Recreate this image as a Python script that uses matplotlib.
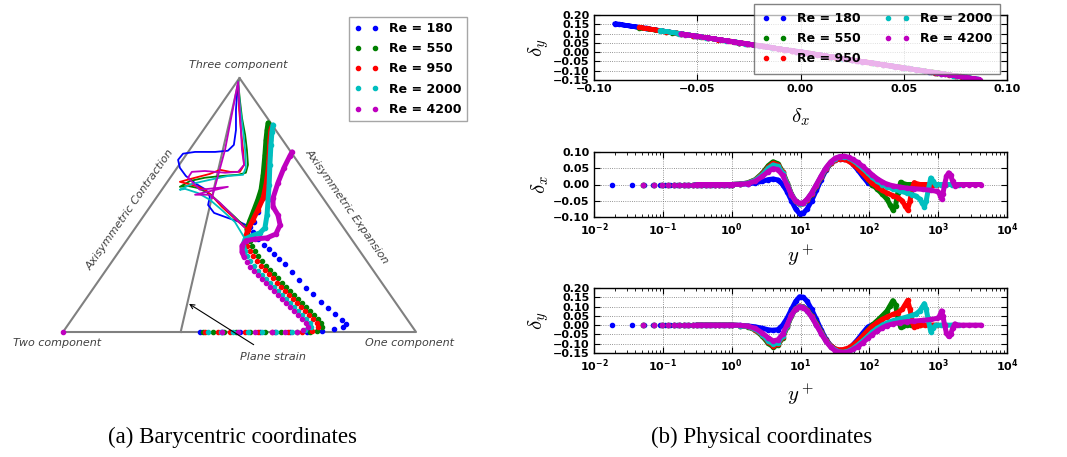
import numpy as np
import matplotlib
matplotlib.use('Agg')
import matplotlib.pyplot as plt

plt.rcParams['font.family'] = ['DejaVu Sans']
plt.rcParams['font.weight'] = 'bold'
plt.rcParams['mathtext.fontset'] = 'dejavusans'

labels = ['Re = 180', 'Re = 550', 'Re = 950', 'Re = 2000', 'Re = 4200']
colors = ['b', 'g', 'r', 'c', 'm']

# ---------------- physical coordinates: y+ grids ----------------
yp_wall_180 = [0.018, 0.036, 0.054, 0.072, 0.09, 0.108, 0.126, 0.144, 0.162, 0.18, 0.2, 0.22,
               0.24, 0.27, 0.3, 0.33, 0.37, 0.41, 0.46, 0.52, 0.58, 0.65, 0.73, 0.82, 0.92]
yp_wall = [0.052, 0.074, 0.096, 0.12, 0.145, 0.17, 0.2, 0.235, 0.27, 0.31, 0.36, 0.42, 0.49,
           0.57, 0.66, 0.77, 0.9]
yp_core = [1.0, 1.3, 1.7, 2.2, 2.8, 3.4, 4.0, 4.7, 5.5, 6.4, 7.4, 8.5, 9.7, 11, 12.5, 14.5,
           17, 20, 23.5, 27.5, 32, 37, 43, 50, 58, 68, 80, 95]

yp_180 = yp_wall_180 + yp_core + [110, 130, 155, 180]
yp_550 = yp_wall + yp_core + [110, 130, 155, 180, 200, 220, 240, 260, 285, 310, 350, 400, 470, 550]
yp_950 = yp_wall + yp_core + [110, 130, 155, 180, 220, 260, 300, 330, 360, 390, 420, 450, 490,
                              550, 650, 750, 850, 950]
yp_2000 = yp_wall + yp_core + [110, 130, 155, 180, 220, 280, 350, 420, 480, 540, 590, 630, 670,
                               720, 780, 840, 920, 1100, 1300, 1600, 2000]
yp_4200 = yp_wall + yp_core + [110, 130, 155, 180, 220, 280, 350, 450, 600, 800, 950, 1030, 1080,
                               1120, 1170, 1240, 1320, 1420, 1520, 1620, 1750, 1900, 2300, 2800,
                               3400, 4200]

# delta_x
dx_180 = [0.0] * len(yp_wall_180) + [
    0.0, 0.001, 0.002, 0.005, 0.010, 0.015, 0.017, 0.014, 0.000, -0.022, -0.050, -0.075, -0.090,
    -0.088, -0.075, -0.050, -0.018, 0.015, 0.045, 0.065, 0.076, 0.080, 0.080, 0.075, 0.062, 0.045,
    0.025, 0.006] + [0.0, -0.002, 0.0, 0.0]
dx_550 = [0.0] * len(yp_wall) + [
    0.0, 0.001, 0.005, 0.015, 0.035, 0.058, 0.070, 0.064, 0.040, 0.005, -0.030, -0.052, -0.060,
    -0.058, -0.048, -0.030, -0.005, 0.022, 0.048, 0.066, 0.077, 0.082, 0.081, 0.076, 0.066, 0.052,
    0.035, 0.016] + [0.0, -0.014, -0.030, -0.045, -0.062, -0.078, -0.065, -0.025, 0.007, 0.003,
                     0.0, 0.0, 0.0, 0.0]
dx_950 = [0.0] * len(yp_wall) + [
    0.0, 0.001, 0.004, 0.014, 0.032, 0.053, 0.065, 0.060, 0.037, 0.003, -0.031, -0.052, -0.060,
    -0.058, -0.047, -0.028, -0.004, 0.023, 0.048, 0.066, 0.075, 0.078, 0.077, 0.072, 0.063, 0.050,
    0.034, 0.017] + [0.004, -0.008, -0.018, -0.026, -0.034, -0.040, -0.050, -0.065, -0.078, -0.050,
                     -0.010, 0.006, 0.002, 0.0, 0.0, 0.0, 0.0, 0.0]
dx_2000 = [0.0] * len(yp_wall) + [
    0.0, 0.001, 0.004, 0.013, 0.030, 0.050, 0.060, 0.056, 0.035, 0.002, -0.031, -0.051, -0.059,
    -0.057, -0.046, -0.027, -0.002, 0.025, 0.050, 0.068, 0.079, 0.085, 0.086, 0.082, 0.074, 0.063,
    0.050, 0.035] + [0.022, 0.010, 0.0, -0.007, -0.014, -0.020, -0.026, -0.031, -0.036, -0.045,
                     -0.058, -0.068, -0.050, -0.015, 0.020, 0.010, 0.0, 0.0, 0.0, 0.0, 0.0]
dx_4200 = [0.0] * len(yp_wall) + [
    0.0, 0.0005, 0.003, 0.010, 0.025, 0.040, 0.049, 0.046, 0.028, -0.002, -0.032, -0.051, -0.058,
    -0.056, -0.045, -0.026, 0.0, 0.027, 0.052, 0.070, 0.081, 0.086, 0.087, 0.084, 0.077, 0.068,
    0.056, 0.042] + [0.030, 0.018, 0.008, 0.001, -0.004, -0.008, -0.011, -0.013, -0.015, -0.018,
                     -0.021, -0.025, -0.035, -0.045, -0.030, 0.0, 0.025, 0.036, 0.028, 0.010,
                     -0.004, 0.0, 0.0, 0.0, 0.0, 0.0]

# delta_y
dy_180 = [0.0] * len(yp_wall_180) + [
    0.0, -0.001, -0.004, -0.009, -0.017, -0.025, -0.028, -0.024, 0.000, 0.038, 0.085, 0.128, 0.153,
    0.150, 0.128, 0.085, 0.031, -0.026, -0.077, -0.110, -0.130, -0.136, -0.136, -0.128, -0.105,
    -0.077, -0.043, -0.010] + [0.002, 0.004, 0.001, 0.0]
dy_550 = [0.0] * len(yp_wall) + [
    0.0, -0.002, -0.009, -0.026, -0.060, -0.098, -0.117, -0.108, -0.068, -0.009, 0.051, 0.088, 0.102,
    0.099, 0.082, 0.051, 0.009, -0.037, -0.082, -0.112, -0.131, -0.139, -0.138, -0.129, -0.112,
    -0.088, -0.060, -0.027] + [0.0, 0.024, 0.051, 0.076, 0.105, 0.132, 0.110, 0.042, -0.012,
                               -0.005, 0.0, 0.0, 0.0, 0.0]
dy_950 = [0.0] * len(yp_wall) + [
    0.0, -0.002, -0.007, -0.024, -0.054, -0.090, -0.110, -0.102, -0.063, -0.005, 0.053, 0.088, 0.102,
    0.099, 0.080, 0.048, 0.007, -0.039, -0.082, -0.112, -0.128, -0.133, -0.131, -0.122, -0.107,
    -0.085, -0.058, -0.029] + [-0.007, 0.014, 0.031, 0.044, 0.058, 0.068, 0.085, 0.110, 0.133,
                               0.085, 0.017, -0.010, -0.003, 0.0, 0.0, 0.0, 0.0, 0.0]
dy_2000 = [0.0] * len(yp_wall) + [
    0.0, -0.002, -0.007, -0.022, -0.051, -0.085, -0.102, -0.095, -0.060, -0.003, 0.053, 0.087, 0.100,
    0.097, 0.078, 0.046, 0.003, -0.043, -0.085, -0.116, -0.134, -0.145, -0.146, -0.139, -0.126,
    -0.107, -0.085, -0.060] + [-0.037, -0.017, 0.0, 0.012, 0.024, 0.034, 0.044, 0.053, 0.061,
                               0.077, 0.099, 0.116, 0.085, 0.026, -0.035, -0.017, 0.0, 0.0, 0.0,
                               0.0, 0.0]
dy_4200 = [0.0] * len(yp_wall) + [
    0.0, -0.001, -0.005, -0.017, -0.043, -0.068, -0.085, -0.079, -0.048, 0.003, 0.054, 0.087, 0.099,
    0.095, 0.077, 0.044, 0.0, -0.046, -0.088, -0.119, -0.138, -0.146, -0.148, -0.143, -0.131,
    -0.116, -0.095, -0.071] + [-0.051, -0.031, -0.014, -0.002, 0.007, 0.014, 0.019, 0.022, 0.026,
                               0.031, 0.036, 0.043, 0.060, 0.077, 0.051, 0.0, -0.043, -0.061,
                               -0.048, -0.017, 0.007, 0.0, 0.0, 0.0, 0.0, 0.0]

# ---------------- barycentric map (x_B, y_B) ----------------
# wall -> peak -> outer branch (dots, then dense part)
bx_180 = [0.388, 0.450, 0.501, 0.558, 0.601, 0.643, 0.691, 0.734, 0.768, 0.793, 0.802, 0.790,
          0.771, 0.751, 0.731, 0.708, 0.688, 0.669, 0.649, 0.629, 0.612, 0.598, 0.584, 0.569,
          0.552, 0.538, 0.530, 0.541, 0.552, 0.561, 0.567, 0.572, 0.575]
by_180 = [0, 0, 0, 0, 0, 0, 0, 0.003, 0.010, 0.017, 0.027, 0.041, 0.061, 0.082, 0.102, 0.130,
          0.150, 0.177, 0.205, 0.232, 0.249, 0.266, 0.283, 0.297, 0.317, 0.341, 0.358, 0.375,
          0.410, 0.451, 0.485, 0.519, 0.546]
bx_550 = [0.397, 0.425, 0.456, 0.490, 0.530, 0.572, 0.618, 0.663, 0.700, 0.720, 0.734, 0.731,
          0.722, 0.711, 0.700, 0.688, 0.677, 0.666, 0.654, 0.643, 0.632, 0.620, 0.609, 0.598,
          0.586, 0.575, 0.564, 0.552, 0.544, 0.535, 0.530, 0.524, 0.521, 0.530, 0.541, 0.552,
          0.561, 0.567, 0.572, 0.575, 0.578, 0.581]
by_550 = [0, 0, 0, 0, 0, 0, 0, 0, 0, 0.003, 0.017, 0.031, 0.044, 0.058, 0.072, 0.085, 0.099,
          0.113, 0.126, 0.140, 0.154, 0.167, 0.184, 0.198, 0.212, 0.225, 0.242, 0.259, 0.276,
          0.294, 0.311, 0.328, 0.352, 0.382, 0.416, 0.451, 0.485, 0.536, 0.604, 0.655, 0.689,
          0.713]
bx_950 = [0.402, 0.439, 0.473, 0.516, 0.552, 0.592, 0.637, 0.677, 0.705, 0.722, 0.720, 0.708,
          0.697, 0.686, 0.674, 0.663, 0.652, 0.640, 0.629, 0.618, 0.606, 0.595, 0.584, 0.572,
          0.561, 0.550, 0.538, 0.530, 0.521, 0.518, 0.518, 0.524, 0.538, 0.552, 0.567, 0.575,
          0.581, 0.584, 0.586, 0.589, 0.592]
by_950 = [0, 0, 0, 0, 0, 0, 0, 0, 0.003, 0.017, 0.031, 0.044, 0.058, 0.072, 0.085, 0.099,
          0.113, 0.126, 0.140, 0.154, 0.167, 0.184, 0.198, 0.212, 0.225, 0.242, 0.259, 0.276,
          0.294, 0.311, 0.328, 0.348, 0.382, 0.416, 0.457, 0.502, 0.553, 0.604, 0.655, 0.689,
          0.700]
bx_2000 = [0.411, 0.448, 0.482, 0.524, 0.564, 0.603, 0.649, 0.686, 0.703, 0.700, 0.688, 0.677,
           0.666, 0.654, 0.643, 0.632, 0.620, 0.609, 0.598, 0.586, 0.575, 0.564, 0.552, 0.541,
           0.530, 0.521, 0.516, 0.510, 0.516, 0.535, 0.558, 0.572, 0.578, 0.581, 0.584, 0.586,
           0.589, 0.592, 0.595]
by_2000 = [0, 0, 0, 0, 0, 0, 0, 0.007, 0.017, 0.031, 0.044, 0.058, 0.072, 0.085, 0.099, 0.113,
           0.126, 0.140, 0.154, 0.167, 0.181, 0.195, 0.208, 0.225, 0.242, 0.259, 0.276, 0.297,
           0.317, 0.328, 0.338, 0.355, 0.399, 0.451, 0.502, 0.570, 0.638, 0.683, 0.706]
bx_4200 = [0.0, 0.450, 0.496, 0.544, 0.592, 0.629, 0.663, 0.680, 0.694, 0.688, 0.677, 0.666,
           0.654, 0.643, 0.632, 0.620, 0.609, 0.598, 0.586, 0.575, 0.564, 0.552, 0.541, 0.530,
           0.521, 0.513, 0.507, 0.507, 0.518, 0.544, 0.578, 0.603, 0.615, 0.609, 0.595, 0.595,
           0.609, 0.626, 0.643, 0.649]
by_4200 = [0.0, 0, 0, 0, 0, 0, 0, 0.007, 0.017, 0.031, 0.044, 0.058, 0.072, 0.085, 0.099, 0.113,
           0.126, 0.140, 0.154, 0.167, 0.181, 0.195, 0.208, 0.222, 0.239, 0.256, 0.273, 0.294,
           0.311, 0.317, 0.321, 0.334, 0.365, 0.399, 0.427, 0.457, 0.509, 0.560, 0.601, 0.614]
# index where the densely sampled (solid looking) part starts
dense_from = [None, 30, 29, 26, 25]

# inner branch towards the three-component corner
lx_180 = [0.530, 0.501, 0.467, 0.428, 0.411, 0.416, 0.405, 0.377, 0.348, 0.331, 0.326, 0.340,
          0.374, 0.431, 0.467, 0.484, 0.490, 0.490, 0.493, 0.496]
ly_180 = [0.358, 0.375, 0.389, 0.406, 0.433, 0.461, 0.485, 0.505, 0.532, 0.560, 0.587, 0.608,
          0.614, 0.614, 0.618, 0.638, 0.689, 0.758, 0.809, 0.853]
lx_550 = [0.521, 0.487, 0.450, 0.416, 0.382, 0.354, 0.331, 0.360, 0.402, 0.450, 0.496, 0.518,
          0.524, 0.521, 0.516, 0.507, 0.501, 0.496]
ly_550 = [0.352, 0.392, 0.433, 0.471, 0.491, 0.498, 0.495, 0.515, 0.526, 0.532, 0.536, 0.543,
          0.570, 0.621, 0.672, 0.730, 0.792, 0.853]
lx_950 = [0.524, 0.487, 0.450, 0.422, 0.402, 0.377, 0.331, 0.374, 0.416, 0.445, 0.473, 0.501,
          0.513, 0.510, 0.504, 0.499, 0.496]
ly_950 = [0.348, 0.386, 0.427, 0.464, 0.485, 0.498, 0.512, 0.526, 0.539, 0.553, 0.546, 0.546,
          0.570, 0.621, 0.689, 0.758, 0.853]
lx_2000 = [0.516, 0.487, 0.450, 0.416, 0.382, 0.346, 0.331, 0.365, 0.416, 0.467, 0.510, 0.518,
           0.516, 0.510, 0.501, 0.496]
ly_2000 = [0.317, 0.375, 0.416, 0.451, 0.474, 0.488, 0.485, 0.505, 0.519, 0.532, 0.536, 0.560,
           0.621, 0.689, 0.775, 0.853]
lx_4200 = [0.513, 0.479, 0.445, 0.416, 0.374, 0.467, 0.388, 0.354, 0.365, 0.402, 0.459, 0.496,
           0.513, 0.507, 0.504, 0.499, 0.496, 0.459, 0.422]
ly_4200 = [0.358, 0.399, 0.440, 0.468, 0.468, 0.495, 0.485, 0.526, 0.546, 0.549, 0.543, 0.546,
           0.570, 0.621, 0.689, 0.792, 0.853, 0.621, 0.457]

phys = [(yp_180, dx_180, dy_180), (yp_550, dx_550, dy_550), (yp_950, dx_950, dy_950),
        (yp_2000, dx_2000, dy_2000), (yp_4200, dx_4200, dy_4200)]
bary = [(bx_180, by_180, lx_180, ly_180), (bx_550, by_550, lx_550, ly_550),
        (bx_950, by_950, lx_950, ly_950), (bx_2000, by_2000, lx_2000, ly_2000),
        (bx_4200, by_4200, lx_4200, ly_4200)]

W, H = 1067, 457
fig = plt.figure(figsize=(W / 100, H / 100), dpi=100)
fig.patch.set_facecolor('white')


def fig_rect(left, top, right, bottom):
    return [left / W, 1 - bottom / H, (right - left) / W, (bottom - top) / H]


# ---------------- (a) barycentric map ----------------
h = np.sqrt(3) / 2
ax_t = fig.add_axes(fig_rect(63, 78, 416, 332))
ax_t.set_xlim(0, 1)
ax_t.set_ylim(0, h)
ax_t.axis('off')
ax_t.plot([0, 1, 0.5, 0], [0, 0, h, 0], color='0.5', lw=1.5, clip_on=False, zorder=1)
ax_t.plot([1 / 3, 0.5], [0, h], color='0.5', lw=1.5, clip_on=False, zorder=1)

handles = []
for k, (bx, by, lx, ly) in enumerate(bary):
    c = colors[k]
    bx = np.array(bx)
    by = np.array(by)
    hd, = ax_t.plot(bx, by, ls='none', marker='.', ms=6, color=c, label=labels[k], clip_on=False)
    handles.append(hd)
    if dense_from[k] is not None:
        i = dense_from[k]
        ax_t.plot(bx[i:], by[i:], '-', lw=3.6, color=c, solid_capstyle='round', clip_on=False)
    ax_t.plot(lx, ly, '-', lw=1.3, color=c, clip_on=False)

tkw = dict(style='italic', weight='normal', color='0.25', fontsize=8, ha='center', va='center')
ax_t.text(0.496, 0.911, 'Three component', **tkw)
ax_t.text(-0.017, -0.038, 'Two component', **tkw)
ax_t.text(0.983, -0.038, 'One component', **tkw)
ax_t.text(0.19, 0.416, 'Axisymmetric Contraction', rotation=55, rotation_mode='anchor', **tkw)
ax_t.text(0.805, 0.427, 'Axisymmetric Expansion', rotation=-55, rotation_mode='anchor', **tkw)
ax_t.annotate('Plane strain', xy=(0.357, 0.096), xytext=(0.595, -0.085),
              arrowprops=dict(arrowstyle='->', color='k', lw=0.8, shrinkA=6, shrinkB=0), **tkw)

ax_t.legend(handles=handles, loc='upper left', bbox_to_anchor=(349 / W, 1 - 17 / H),
            bbox_transform=fig.transFigure, borderaxespad=0, numpoints=2, fontsize=9,
            labelspacing=0.58, fancybox=False, framealpha=0.7, edgecolor='0.5')

# ---------------- (b) physical coordinates ----------------
ax_a = fig.add_axes(fig_rect(594, 15, 1007, 80))
ax_b = fig.add_axes(fig_rect(594, 152, 1007, 217))
ax_c = fig.add_axes(fig_rect(594, 288, 1007, 353))

mh = []
for k, (yp, dx, dy) in enumerate(phys):
    c = colors[k]
    yp = np.array(yp)
    dx = np.array(dx)
    dy = np.array(dy)
    dense = yp >= 0.3
    hd, = ax_a.plot(dx, dy, ls='none', marker='.', ms=6, color=c, label=labels[k])
    mh.append(hd)
    ax_a.plot(dx[dense], dy[dense], '-', lw=3.4, color=c, solid_capstyle='round')
    ax_b.plot(yp, dx, ls='none', marker='.', ms=6, color=c)
    ax_b.plot(yp[dense], dx[dense], '-', lw=3.6, color=c, solid_capstyle='round')
    ax_c.plot(yp, dy, ls='none', marker='.', ms=6, color=c)
    ax_c.plot(yp[dense], dy[dense], '-', lw=3.6, color=c, solid_capstyle='round')

ax_a.set_xlim(-0.1, 0.1)
ax_a.set_ylim(-0.15, 0.2)
ax_a.set_xticks([-0.1, -0.05, 0.0, 0.05, 0.1])
ax_a.set_xticklabels(['%.2f' % v if v >= 0 else '\u2212%.2f' % -v
                      for v in [-0.1, -0.05, 0.0, 0.05, 0.1]])

ax_b.set_ylim(-0.1, 0.1)
ax_c.set_ylim(-0.15, 0.2)

decades = [1e-2, 1e-1, 1e0, 1e1, 1e2, 1e3, 1e4]
dec_lab = [r'$\mathbf{10^{%d}}$' % e for e in range(-2, 5)]
for ax in (ax_b, ax_c):
    ax.set_xscale('log')
    ax.set_xlim(1e-2, 1e4)
    ax.set_xticks(decades)
    ax.set_xticklabels(dec_lab)

yt1 = [-0.15, -0.1, -0.05, 0.0, 0.05, 0.1, 0.15, 0.2]
yt2 = [-0.1, -0.05, 0.0, 0.05, 0.1]
for ax, yt in ((ax_a, yt1), (ax_b, yt2), (ax_c, yt1)):
    ax.set_yticks(yt)
    ax.set_yticklabels(['%.2f' % v if v >= 0 else '\u2212%.2f' % -v for v in yt])
    ax.grid(True, ls=':', color='0.45', lw=0.6)
    ax.tick_params(which='both', direction='in', top=True, right=True, labelsize=8, pad=3)
    ax.tick_params(which='major', length=4)
    ax.tick_params(which='minor', length=2)
    for s in ax.spines.values():
        s.set_linewidth(1.0)

lab = dict(fontsize=15, math_fontfamily='cm')
ax_a.set_ylabel(r'$\delta_y$', **lab)
ax_a.set_xlabel(r'$\delta_x$', **lab)
ax_b.set_ylabel(r'$\delta_x$', **lab)
ax_b.set_xlabel(r'$y^+$', **lab)
ax_c.set_ylabel(r'$\delta_y$', **lab)
ax_c.set_xlabel(r'$y^+$', **lab)
for ax in (ax_a, ax_b, ax_c):
    ax.yaxis.set_label_coords(-0.105, 0.5)
ax_a.xaxis.set_label_coords(0.5, -0.40)
ax_b.xaxis.set_label_coords(0.5, -0.40)
ax_c.xaxis.set_label_coords(0.5, -0.45)

ax_a.legend(handles=mh, loc='upper left', bbox_to_anchor=(754 / W, 1 - 4 / H),
            bbox_transform=fig.transFigure, borderaxespad=0, ncol=2, numpoints=2, fontsize=9,
            labelspacing=0.58, borderpad=0.64, fancybox=False, framealpha=0.7, edgecolor='0.3',
            columnspacing=1.9)

# captions
cap = dict(family='Liberation Serif', weight='normal', fontsize=16.5, ha='center', va='center')
fig.text(232 / W, 1 - 437 / H, '(a) Barycentric coordinates', **cap)
fig.text(762 / W, 1 - 437 / H, '(b) Physical coordinates', **cap)

fig.savefig('out.png', dpi=100, facecolor='white')
